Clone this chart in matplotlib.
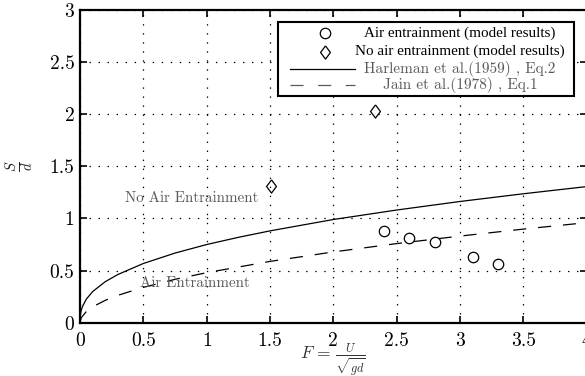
import matplotlib
matplotlib.use("Agg")
import matplotlib.pyplot as plt
from matplotlib.lines import Line2D
from matplotlib.patches import Rectangle

# ---- data ----
air_F = [2.4, 2.6, 2.8, 3.1, 3.3]
air_S = [0.875, 0.808, 0.779, 0.635, 0.565]

noair_F = [1.51, 2.33]
noair_S = [1.31, 2.03]

harleman_F = [0, 0.001, 0.005, 0.01, 0.02, 0.05, 0.1, 0.2, 0.3, 0.5, 0.75, 1.0,
              1.25, 1.5, 2.0, 2.5, 3.0, 3.5, 4.0]
harleman_S = [0, 0.047, 0.09, 0.119, 0.157, 0.226, 0.299, 0.394, 0.463, 0.568,
              0.668, 0.75, 0.819, 0.881, 0.99, 1.081, 1.163, 1.237, 1.306]

jain_F = [0, 0.01, 0.05, 0.1, 0.2, 0.3, 0.5, 0.75, 1.0, 1.5, 2.0, 2.5, 3.0, 3.5, 4.0]
jain_S = [0, 0.048, 0.107, 0.152, 0.215, 0.263, 0.339, 0.416, 0.48, 0.588, 0.679,
          0.759, 0.831, 0.898, 0.96]

xticks = [0, 0.5, 1, 1.5, 2, 2.5, 3, 3.5, 4]
xtick_labels = ["0", "0.5", "1", "1.5", "2", "2.5", "3", "3.5", "4"]
yticks = [0, 0.5, 1, 1.5, 2, 2.5, 3]
ytick_labels = ["0", "0.5", "1", "1.5", "2", "2.5", "3"]

legend_labels = ["Air entrainment (model results)",
                 "No air entrainment (model results)",
                 "Harleman et al.(1959) , Eq.2",
                 "Jain et al.(1978) , Eq.1"]

plt.rcParams['font.family'] = 'serif'
plt.rcParams['font.serif'] = ['cmr10', 'DejaVu Serif']
plt.rcParams['mathtext.fontset'] = 'cm'
plt.rcParams['axes.formatter.use_mathtext'] = True
plt.rcParams['lines.scale_dashes'] = False

GRAY = '#5a5a5a'
DASH = (0, (9.4, 8.6))
DIAMOND = [(0, 1), (0.75, 0), (0, -1), (-0.75, 0), (0, 1)]

fig = plt.figure(figsize=(5.85, 3.76), dpi=100)
ax = fig.add_axes([80/585, (376-322.7)/376, 506.7/585, 312.7/376])

ax.plot(harleman_F, harleman_S, color='black', lw=0.9)
ax.plot(jain_F, jain_S, color='black', lw=0.9, linestyle=DASH)
ax.plot(air_F, air_S, linestyle='none', marker='o', ms=7.5, mfc='none',
        mec='black', mew=0.9)
ax.plot(noair_F, noair_S, linestyle='none', marker=DIAMOND, ms=9.5, mfc='none',
        mec='black', mew=0.9)

ax.set_xlim(0, 4)
ax.set_ylim(0, 3)
ax.set_xticks(xticks)
ax.set_xticklabels(xtick_labels)
ax.set_yticks(yticks)
ax.set_yticklabels(ytick_labels)
ax.tick_params(direction='in', length=5, width=1.2, top=True, right=True,
               labelsize=14)
ax.tick_params(axis='x', pad=7)
ax.tick_params(axis='y', pad=4)
for sp in ax.spines.values():
    sp.set_linewidth(1.6)
ax.grid(True, color='black', linestyle=(0, (1, 5.5)), linewidth=0.9)

ax.text(0.88, 1.196, "No Air Entrainment", color=GRAY, fontsize=10.8,
        ha='center', va='center')
ax.text(0.905, 0.379, "Air Entrainment", color=GRAY, fontsize=10.8,
        ha='center', va='center')

ax.set_xlabel(r"$F\,=\,\frac{U}{\sqrt{gd}}$", fontsize=12.5, color='#333333')
ax.set_ylabel(r"$\frac{S}{d}$", fontsize=15, color='#222222', rotation=90)
ax.yaxis.set_label_coords(-0.086, 0.5)
ax.xaxis.set_label_coords(0.5, -0.062)

# ---- legend box (drawn in axes coordinates) ----
T = ax.transAxes
ax.add_patch(Rectangle((0.391, 0.725), 0.584, 0.2366, transform=T,
                       facecolor='white', edgecolor='black', lw=1.5, zorder=5))
rows = [0.9255, 0.8667, 0.8112, 0.7601]
mx = 0.4835
tx = 0.75
ax.add_line(Line2D([mx], [rows[0]], transform=T, marker='o', ms=7.5, mfc='none',
                   mec='black', mew=0.9, zorder=6))
ax.add_line(Line2D([mx], [rows[1]], transform=T, marker=DIAMOND, ms=9.5, mfc='none',
                   mec='black', mew=0.9, zorder=6))
ax.add_line(Line2D([0.4145, 0.5427], [rows[2]] * 2, transform=T, color='black',
                   lw=0.9, zorder=6))
ax.add_line(Line2D([0.4145, 0.5427], [rows[3]] * 2, transform=T, color=GRAY,
                   lw=0.9, linestyle=(0, (9.4, 10.5)), zorder=6))
for i, lab in enumerate(legend_labels):
    if i < 2:
        ax.text(tx, rows[i], lab, transform=T, ha='center', va='center',
                fontsize=10.9, family='Liberation Serif', color='black', zorder=7)
    else:
        ax.text(tx, rows[i], lab, transform=T, ha='center', va='center',
                fontsize=11, color=GRAY, zorder=7)

fig.savefig("out.png", dpi=100)
